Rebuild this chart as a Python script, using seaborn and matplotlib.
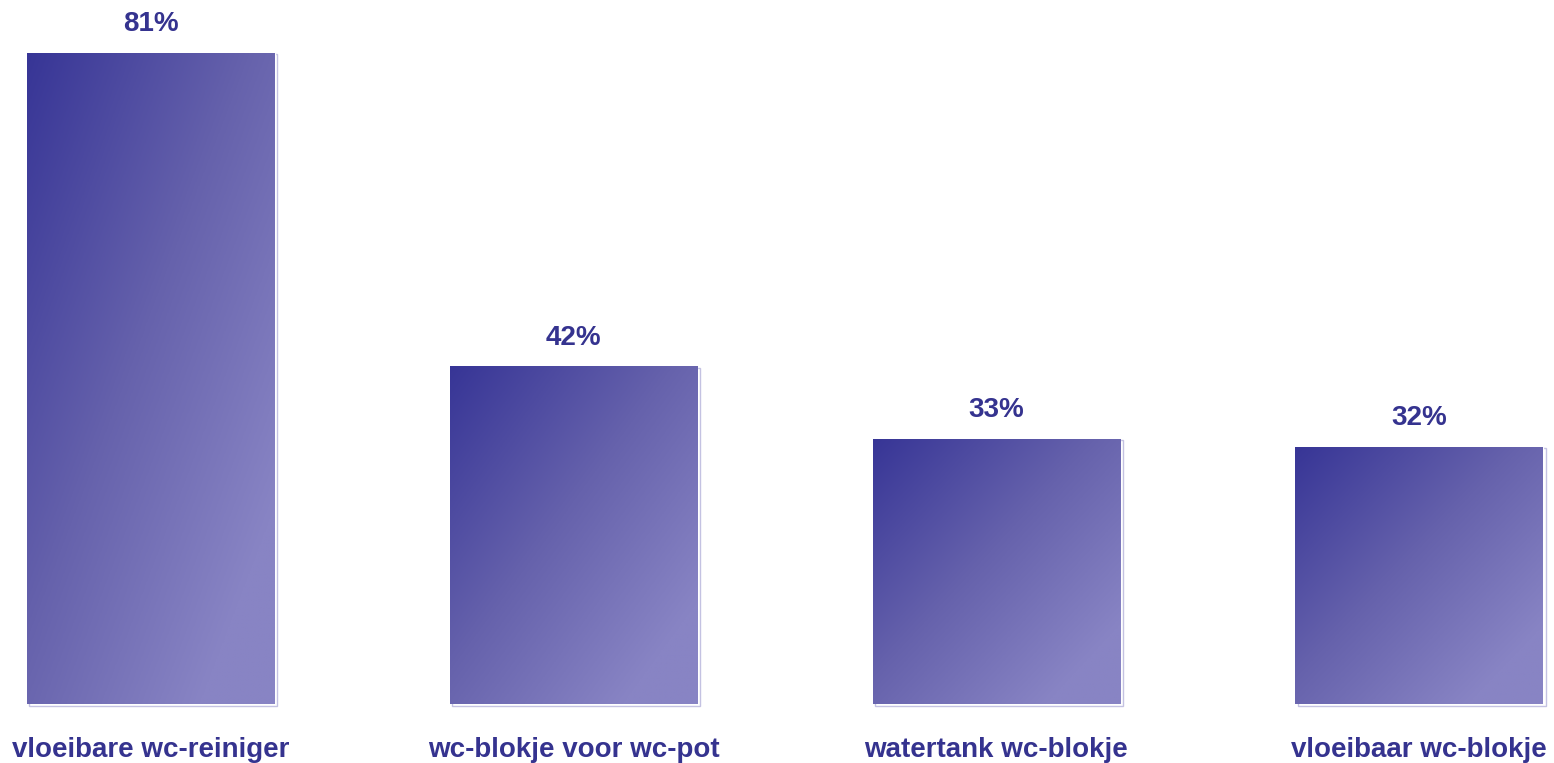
import numpy as np
import pandas as pd
import matplotlib
matplotlib.use("Agg")
import matplotlib.pyplot as plt
from matplotlib.patches import Rectangle
from matplotlib.colors import LinearSegmentedColormap
import seaborn as sns

# Share of respondents per toilet-cleaning product
categories = ["vloeibare wc-reiniger", "wc-blokje voor wc-pot",
              "watertank wc-blokje", "vloeibaar wc-blokje"]
values = [81, 42, 33, 32]
value_labels = ["81%", "42%", "33%", "32%"]

TEXT_COLOR = "#35338f"
DARK = "#373596"
LIGHT = "#8884c4"
SHADOW = "#c4c2e2"

sns.set_theme(style="white")
plt.rcParams["font.family"] = ["Liberation Sans", "DejaVu Sans"]

W, H, DPI = 1554, 763, 100
fig = plt.figure(figsize=(W / DPI, H / DPI), dpi=DPI)
fig.patch.set_facecolor("white")

# axes spans full width; baseline sits 59 px above bottom edge
ax = fig.add_axes([0, 59 / H, 1, (H - 59) / H])
ax.set_facecolor("white")

df = pd.DataFrame({"category": categories, "value": values})
bar_w = 0.586
sns.barplot(data=df, x="category", y="value", color=DARK, width=bar_w,
            saturation=1, ax=ax, zorder=2)

px_per_unit = 422.8
xlim = (-bar_w / 2 - 27 / px_per_unit, 3 + bar_w / 2 + 11 / px_per_unit)
ylim = (0, (H - 59) / 8.04)

cmap = LinearSegmentedColormap.from_list(
    "barfill", [(0.0, DARK), (0.45, "#6662ac"), (0.85, LIGHT), (1.0, LIGHT)], N=256)
nx, ny = 200, 400
u = np.linspace(0, 1, nx)[None, :]
v = np.linspace(0, 1, ny)[:, None]
grad = (u + v) / 2.0  # 0 at top-left, 1 at bottom-right

dx = 2.5 / px_per_unit
dy = 1.5 / 8.04
for patch, lab in zip(ax.patches, value_labels):
    x0, w = patch.get_x(), patch.get_width()
    h = patch.get_height()
    # light drop shadow on the right/bottom side
    sh = Rectangle((x0 + dx, -dy), w, h, facecolor="none", edgecolor=SHADOW,
                   lw=1.0, zorder=1, clip_on=False)
    ax.add_patch(sh)
    im = ax.imshow(grad, cmap=cmap, vmin=0, vmax=1, aspect="auto",
                   extent=[x0, x0 + w, 0, h], origin="upper", zorder=3,
                   interpolation="bilinear")
    im.set_clip_path(patch)
    ax.annotate(lab, (x0 + w / 2, h), xytext=(0, 11), textcoords="offset points",
                ha="center", va="bottom", fontsize=20, fontweight="bold",
                color=TEXT_COLOR, zorder=4)

ax.set_aspect("auto")
ax.set_xlim(*xlim)
ax.set_ylim(*ylim)

ax.set_xlabel("")
ax.set_ylabel("")
ax.set_yticks([])
ax.set_xticks(range(len(categories)))
ax.set_xticklabels(categories, fontsize=20, fontweight="bold", color=TEXT_COLOR)
ax.tick_params(axis="x", length=0, pad=24)
for s in ax.spines.values():
    s.set_visible(False)

fig.savefig("out.png", dpi=DPI, facecolor="white")
